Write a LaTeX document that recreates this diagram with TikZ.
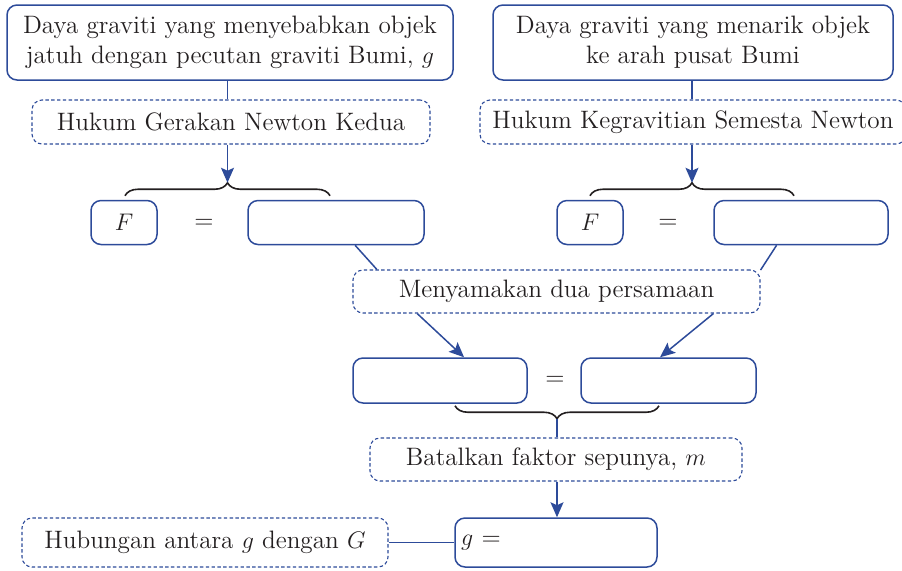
\documentclass[tikz,border=0pt]{standalone}
\usepackage{xcolor}
\usepackage{tikz}
\usetikzlibrary{arrows.meta, calc, decorations.pathreplacing}
\definecolor{bukublue}{HTML}{2D4B9A}
\definecolor{ink}{HTML}{231F20}

\begin{document}
\begin{tikzpicture}[
    x=0.5pt, y=-0.5pt,
    box/.style={rectangle, draw=bukublue, line width=0.75pt, rounded corners=5pt, inner sep=0pt, text=ink, align=center, font=\fontsize{12.6}{15}\selectfont},
    dbox/.style={box, line width=0.55pt, dash pattern=on 1.7pt off 1.2pt},
    sign/.style={text=ink, font=\fontsize{12.6}{15}\selectfont},
    link/.style={draw=bukublue, line width=0.75pt},
    arr/.style={link, -{Stealth[length=7.5pt, width=6.5pt, inset=1.5pt]}},
    brc/.style={decorate, decoration={brace, amplitude=6.5pt}, draw=ink, line width=0.8pt}
]
\useasboundingbox (0,0) rectangle (902,570);

% Top boxes
\node[box, minimum width=223pt, minimum height=37.5pt] (pull) at (230, 42.5) {Daya graviti yang menyebabkan objek\\ jatuh dengan pecutan graviti Bumi, $g$};
\node[box, minimum width=200pt, minimum height=37.5pt] (attract) at (693, 42.5) {Daya graviti yang menarik objek\\ ke arah pusat Bumi};

% Laws
\node[dbox, minimum width=199pt, minimum height=22pt] (newton2) at (231, 122) {Hukum Gerakan Newton Kedua};
\node[dbox, minimum width=213pt, minimum height=22pt] (gravlaw) at (693, 122) {Hukum Kegravitian Semesta Newton};

% Left equation
\node[box, minimum width=33pt, minimum height=22pt] (fleft) at (124, 222.5) {$F$};
\node[sign] (eqleft) at (204, 224) {=};
\node[box, minimum width=88pt, minimum height=22pt] (rhsleft) at (336, 222.5) {};

% Right equation
\node[box, minimum width=33pt, minimum height=22pt] (fright) at (590, 222.5) {$F$};
\node[sign] (eqright) at (668, 224) {=};
\node[box, minimum width=87pt, minimum height=22pt] (rhsright) at (801, 222.5) {};

% Equating
\node[dbox, minimum width=203.5pt, minimum height=21.5pt] (equate) at (556.5, 291.5) {Menyamakan dua persamaan};
\node[box, minimum width=87pt, minimum height=22.5pt] (lhs) at (440, 380.5) {};
\node[sign] (eqmid) at (555, 381) {=};
\node[box, minimum width=87.5pt, minimum height=22.5pt] (rhs) at (668.5, 380.5) {};

% Result
\node[dbox, minimum width=186pt, minimum height=21.5pt] (cancel) at (556, 459.5) {Batalkan faktor sepunya, $m$};
\node[box, minimum width=101pt, minimum height=24.5pt, text width=95pt, align=left] (result) at (556, 542.5) {$g$ =};
\node[dbox, minimum width=183pt, minimum height=24.5pt] (relation) at (205, 542.5) {Hubungan antara $g$ dengan $G$};

% Braces
\coordinate (bl1) at ($(fleft.north)+(1,-4)$);
\coordinate (bl2) at ($(rhsleft.north)+(-6,-4)$);
\coordinate (tipl) at ($(bl1)!.5!(bl2)+(0,-13)$);
\draw[brc] (bl1) -- (bl2);
\coordinate (br1) at ($(fright.north)+(0,-4)$);
\coordinate (br2) at ($(rhsright.north)+(-7,-4)$);
\coordinate (tipr) at ($(br1)!.5!(br2)+(0,-13)$);
\draw[brc] (br1) -- (br2);
\coordinate (bm1) at ($(lhs.south)+(15,2)$);
\coordinate (bm2) at ($(rhs.south)+(-9.5,2)$);
\coordinate (tipm) at ($(bm1)!.5!(bm2)+(0,13)$);
\draw[brc] (bm2) -- (bm1);

% Connections
\draw[link] (pull.south -| tipl) -- (newton2.north -| tipl);
\draw[arr] (newton2.south -| tipl) -- (tipl);
\draw[link] (attract.south -| tipr) -- (gravlaw.north -| tipr);
\draw[arr] (gravlaw.south -| tipr) -- (tipr);
\draw[link] (rhsleft.-50) -- (equate.173);
\draw[link] (rhsright.-137) -- (equate.6.5);
\draw[arr] (equate.-171) -- (lhs.44);
\draw[arr] (equate.-8.4) -- (rhs.110);
\draw[link] (tipm) -- (cancel.north -| tipm);
\draw[arr] (cancel.south -| tipm) -- (result.north -| tipm);
\draw[link] (relation.east) -- (result.west);

\end{tikzpicture}
\end{document}
